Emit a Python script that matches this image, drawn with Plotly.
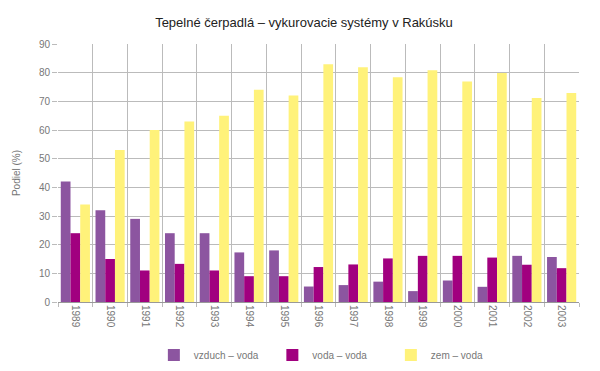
import plotly.graph_objects as go

years = ["1989", "1990", "1991", "1992", "1993", "1994", "1995", "1996",
         "1997", "1998", "1999", "2000", "2001", "2002", "2003"]
vzduch_voda = [42, 32, 29, 24, 24, 17.3, 18, 5.4, 5.9, 7.1, 3.8, 7.5, 5.3, 16.1, 15.7]
voda_voda = [24, 15, 11, 13.3, 11, 9, 9, 12.2, 13.1, 15.2, 16.1, 16.1, 15.5, 13, 11.8]
zem_voda = [34, 53, 60, 63, 65, 74, 72, 82.9, 81.9, 78.4, 80.8, 76.9, 79.9, 71.2, 72.9]

series = [
    ("vzduch – voda", vzduch_voda, "#8C55A0"),
    ("voda – voda", voda_voda, "#A1007F"),
    ("zem – voda", zem_voda, "#FFF27A"),
]

fig = go.Figure()
for name, vals, color in series:
    fig.add_trace(go.Bar(x=years, y=vals, name=name, marker_color=color,
                         marker_line_width=0))

font = "Liberation Sans, Arial, sans-serif"
fig.update_layout(
    width=592, height=363,
    margin=dict(l=50, r=21, t=36, b=69, autoexpand=False),
    paper_bgcolor="white", plot_bgcolor="white",
    barmode="group", bargap=0.16, bargroupgap=0,
    title=dict(text="Tepelné čerpadlá – vykurovacie systémy v Rakúsku",
               x=0.5, xanchor="center", y=0.961, yanchor="middle",
               font=dict(family=font, size=13, color="#222222")),
    font=dict(family=font, size=10, color="#777777"),
    showlegend=True,
    legend=dict(orientation="h", x=0.184, xanchor="left", y=-0.205, yanchor="middle",
                entrywidth=73.5, entrywidthmode="pixels", itemwidth=30,
                bgcolor="rgba(0,0,0,0)",
                font=dict(family=font, size=10, color="#777777"),
                traceorder="normal"),
    xaxis=dict(type="category", tickson="boundaries", showgrid=True,
               automargin=False,
               gridcolor="#BBBBBB", gridwidth=1, ticks="outside", ticklen=4,
               tickcolor="#BBBBBB", tickangle=90, showline=True,
               linecolor="#999999", linewidth=1, mirror=False,
               tickfont=dict(family=font, size=10, color="#777777")),
    yaxis=dict(range=[0, 90], dtick=10, showgrid=True, gridcolor="#BBBBBB",
               automargin=False,
               gridwidth=1, ticks="outside", ticklen=5, tickcolor="#BBBBBB",
               zeroline=False, showline=False,
               title=dict(text="Podiel (%)", standoff=16,
                          font=dict(family=font, size=10, color="#777777")),
               tickfont=dict(family=font, size=10, color="#777777")),
)

fig.write_html("out.html")
